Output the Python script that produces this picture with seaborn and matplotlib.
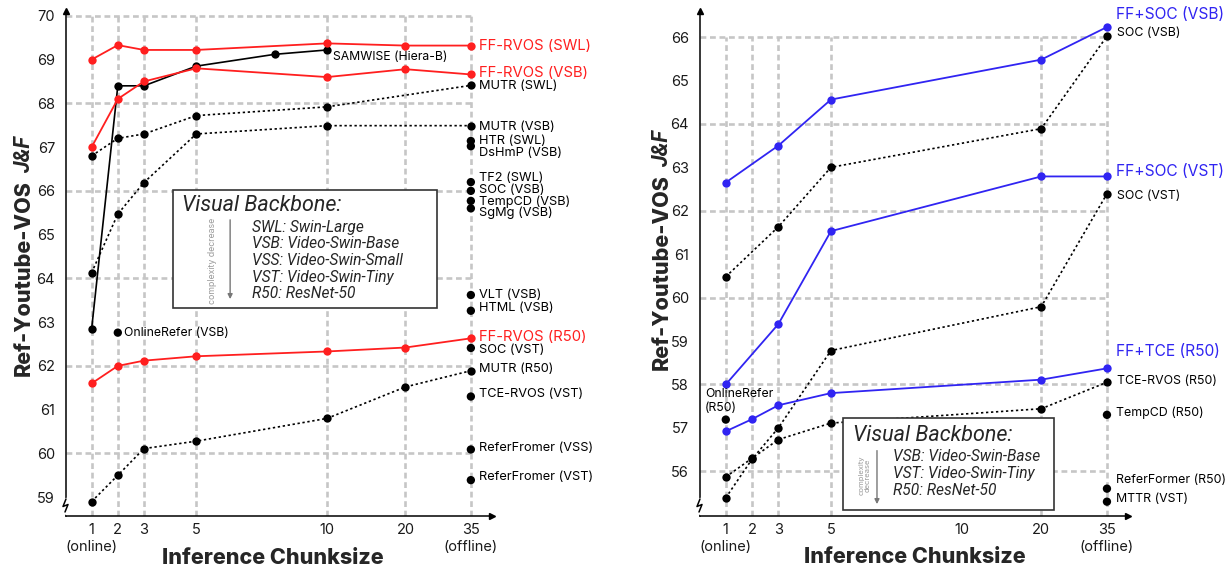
import numpy as np
import matplotlib
matplotlib.use("Agg")
import matplotlib.pyplot as plt
import seaborn as sns
from matplotlib.patches import Rectangle

# ---------------- data ----------------
chunk_ticks = [1, 2, 3, 5, 10, 20, 35]
chunk_ticklabels = ["1", "2", "3", "5", "10", "20", "35"]
ONLINE = 1
OFFLINE = 35

# left panel (Ref-Youtube-VOS, FF-RVOS)
left_x = [1, 2, 3, 5, 10, 20, 35]
ffrvos_swl = [69.0, 69.33, 69.22, 69.22, 69.37, 69.32, 69.32]
ffrvos_vsb = [67.0, 68.1, 68.5, 68.8, 68.6, 68.78, 68.66]
ffrvos_r50 = [61.6, 62.0, 62.12, 62.22, 62.33, 62.42, 62.63]
mutr_r50 = [58.9, 59.5, 60.11, 60.28, 60.8, 61.52, 61.89]
mutr_x = [1, 2, 3, 5, 10, 35]
mutr_swl = [66.8, 67.2, 67.3, 67.72, 67.92, 68.41]
mutr_vsb = [64.13, 65.47, 66.19, 67.3, 67.49, 67.49]
samwise_x = [1, 2, 3, 5, 8, 10]
samwise = [62.85, 68.4, 68.4, 68.85, 69.12, 69.22]
onlinerefer_vsb_x = [2]
onlinerefer_vsb = [62.76]
left_offline_names = ["HTR (SWL)", "DsHmP (VSB)", "TF2 (SWL)", "SOC (VSB)", "TempCD (VSB)",
                      "SgMg (VSB)", "VLT (VSB)", "HTML (VSB)", "SOC (VST)", "TCE-RVOS (VST)",
                      "ReferFromer (VSS)", "ReferFromer (VST)"]
left_offline_vals = [67.14, 67.02, 66.2, 66.0, 65.77, 65.6, 63.62, 63.26, 62.41, 61.3, 60.09, 59.39]
left_grid_x = [1, 2, 3, 5, 10, 20, 35]
left_grid_y = [60, 62, 64, 66, 68, 70]
left_yticks = list(range(59, 71))

# right panel (FF + SOC / TCE)
right_x5 = [1, 3, 5, 20, 35]
ffsoc_vsb = [62.65, 63.5, 64.56, 65.48, 66.23]
soc_vsb = [60.48, 61.63, 63.0, 63.89, 66.02]
ffsoc_vst = [58.0, 59.39, 61.53, 62.79, 62.79]
right_x6 = [1, 2, 3, 5, 20, 35]
soc_vst = [55.39, 56.28, 57.0, 58.78, 59.79, 62.39]
fftce_r50 = [56.92, 57.2, 57.52, 57.8, 58.11, 58.37]
tce_r50 = [55.87, 56.3, 56.73, 57.11, 57.44, 58.05]
onlinerefer_r50_x = [1]
onlinerefer_r50 = [57.19]
right_offline_names = ["TempCD (R50)", "ReferFormer (R50)", "MTTR (VST)"]
right_offline_vals = [57.3, 55.6, 55.3]
right_grid_x = [1, 2, 3, 5, 20, 35]
right_grid_y = [56, 58, 60, 62, 64, 66]
right_yticks = list(range(56, 67))

# ---------------- style ----------------
RED = "#ff1f1f"
BLUE = "#3024f2"
BLACK = "#000000"
GRID = "#c6c6c6"
DOT = (0, (1.4, 1.6))

sns.set_style("white")
plt.rcParams["font.family"] = ["Inter", "DejaVu Sans"]
ITAL = "Roboto"
HEAVY = "heavy"


def fwd(v):
    v = np.asarray(v, dtype=float)
    return np.where(v <= 10, v - 1, np.where(v <= 20, 9 + (v - 10) * 0.3, 12 + (v - 20) / 6.0))


def inv(p):
    p = np.asarray(p, dtype=float)
    return np.where(p <= 9, p + 1, np.where(p <= 12, 10 + (p - 9) / 0.3, 20 + (p - 12) * 6.0))


fig = plt.figure(figsize=(12.25, 5.68), dpi=100)
W, H = 1225.0, 568.0
axL = fig.add_axes([65.5 / W, (H - 516) / H, 426.5 / W, 505 / H])
axR = fig.add_axes([699.5 / W, (H - 516) / H, 428.7 / W, 505 / H])


def setup(ax, ylim, yticks, grid_x, grid_y):
    ax.set_xscale("function", functions=(fwd, inv))
    ax.set_xlim(0, 39.85)
    ax.set_ylim(*ylim)
    for s in ["top", "right"]:
        ax.spines[s].set_visible(False)
    for s in ["left", "bottom"]:
        ax.spines[s].set_color("black")
        ax.spines[s].set_linewidth(1.1)
    ax.set_xticks(chunk_ticks)
    ax.set_xticklabels(chunk_ticklabels)
    minor = [m for m in inv(np.arange(0, 15)) if not np.any(np.isclose(m, chunk_ticks))]
    ax.set_xticks(minor, minor=True)
    ax.set_yticks(yticks)
    ax.tick_params(axis="x", which="both", direction="inout", length=5, width=1,
                   labelsize=10.5, pad=2.5, colors="black", labelcolor="#1a1a1a")
    ax.tick_params(axis="y", which="both", direction="inout", length=5, width=1,
                   labelsize=10.5, pad=5, colors="black", labelcolor="#1a1a1a")
    for xv, txt in [(ONLINE, "(online)"), (OFFLINE, "(offline)")]:
        ax.annotate(txt, xy=(xv, 0), xycoords=("data", "axes fraction"), xytext=(0, -31),
                    textcoords="offset pixels", ha="center", va="center", fontsize=10.5,
                    color="#1a1a1a", annotation_clip=False)
    ax.vlines(grid_x, ylim[0], max(grid_y), colors=GRID, linestyles=(0, (2.2, 1.4)),
              linewidth=1.9, zorder=0)
    ax.hlines(grid_y, 0, OFFLINE, colors=GRID, linestyles=(0, (2.2, 1.4)),
              linewidth=1.9, zorder=0)
    # arrow heads
    ax.plot([0], [1], marker="^", color="black", markersize=4.5, transform=ax.transAxes,
            clip_on=False, zorder=10)
    ax.plot([1], [0], marker=">", color="black", markersize=4.5, transform=ax.transAxes,
            clip_on=False, zorder=10)
    # axis break squiggle
    px = 1.0 / ax.bbox.width
    py = 1.0 / ax.bbox.height
    ax.plot([0, 0], [3.5 * py, 17.5 * py], color="white", lw=2.5, transform=ax.transAxes,
            clip_on=False, zorder=9)
    ax.plot([0.5 * px, -2.5 * px, 2.5 * px, -0.5 * px], [17 * py, 9.5 * py, 11.5 * py, 4 * py],
            color="black", lw=1.1, transform=ax.transAxes, clip_on=False, zorder=10)


def series(ax, x, y, color, ls="-", lw=1.3, ms=6, z=3):
    sns.lineplot(x=x, y=y, ax=ax, color=color, linestyle=ls, linewidth=lw, marker="o",
                 markersize=ms, markeredgewidth=0, markerfacecolor=color, sort=False,
                 estimator=None, legend=False, zorder=z)


def points(ax, x, y, color="black", z=4):
    sns.scatterplot(x=x, y=y, ax=ax, color=color, s=36, edgecolor="none", linewidth=0,
                    legend=False, zorder=z)


def label(ax, text, x, y, dx, dy, color="black", size=9.2, ha="left", va="center"):
    ax.annotate(text, xy=(x, y), xytext=(dx, dy), textcoords="offset pixels",
                ha=ha, va=va, color=color, fontsize=size, zorder=8, annotation_clip=False)


def ylabel_two_part(x_base_px, yc_px, size=15.5):
    r = fig.canvas.get_renderer()
    t1 = fig.text(0, 0, "Ref-Youtube-VOS", rotation=90, rotation_mode="anchor",
                  ha="left", va="baseline", fontsize=size, fontweight=HEAVY)
    t2 = fig.text(0, 0, "J&F", rotation=90, rotation_mode="anchor", ha="left",
                  va="baseline", fontsize=size, fontweight="bold", family=ITAL, style="italic")
    h1 = t1.get_window_extent(r).height
    h2 = t2.get_window_extent(r).height
    gap = 0.3 * size * 100 / 72
    y0 = yc_px - (h1 + gap + h2) / 2
    t1.set_position((x_base_px / W, y0 / H))
    t2.set_position((x_base_px / W, (y0 + h1 + gap) / H))


def legend_box(ax, rect, title_xy, entries, ex, ey0, arrow_x, arrow_y, note, note_xy, note_size):
    ax.add_patch(Rectangle(rect[:2], rect[2], rect[3], transform=ax.transAxes,
                           facecolor="white", edgecolor="#333333", lw=1.2, zorder=6))
    ax.text(*title_xy, "Visual Backbone:", transform=ax.transAxes, fontsize=15.5,
            family=ITAL, style="italic", ha="left", va="center", zorder=7)
    for i, t in enumerate(entries):
        ax.text(ex, ey0 - i * 0.033, t, transform=ax.transAxes, fontsize=11.2,
                family=ITAL, style="italic", ha="left", va="center", zorder=7)
    ax.annotate("", xy=(arrow_x, arrow_y[1]), xytext=(arrow_x, arrow_y[0]),
                xycoords="axes fraction",
                arrowprops=dict(arrowstyle="-|>", color="#777777", lw=1, mutation_scale=7),
                zorder=7)
    ax.text(*note_xy, note, transform=ax.transAxes, rotation=90, fontsize=note_size,
            color="#9a9a9a", ha="center", va="center", zorder=7, linespacing=1.0)


# ---------------- left panel ----------------
setup(axL, (58.57, 70.11), left_yticks, left_grid_x, left_grid_y)
series(axL, samwise_x, samwise, BLACK, "-", lw=1.2)
series(axL, mutr_x, mutr_swl, BLACK, DOT, lw=1.2)
series(axL, mutr_x, mutr_vsb, BLACK, DOT, lw=1.2)
series(axL, left_x, mutr_r50, BLACK, DOT, lw=1.2)
series(axL, left_x, ffrvos_swl, RED, "-", lw=1.3, z=5)
series(axL, left_x, ffrvos_vsb, RED, "-", lw=1.3, z=5)
series(axL, left_x, ffrvos_r50, RED, "-", lw=1.3, z=5)
points(axL, onlinerefer_vsb_x, onlinerefer_vsb)
points(axL, [OFFLINE] * len(left_offline_vals), left_offline_vals)

label(axL, "FF-RVOS (SWL)", OFFLINE, ffrvos_swl[-1], 8, 0, RED, 10.7)
label(axL, "FF-RVOS (VSB)", OFFLINE, ffrvos_vsb[-1], 8, 1, RED, 10.7)
label(axL, "FF-RVOS (R50)", OFFLINE, ffrvos_r50[-1], 8, 1, RED, 10.7)
label(axL, "MUTR (SWL)", OFFLINE, mutr_swl[-1], 8, -1)
label(axL, "MUTR (VSB)", OFFLINE, mutr_vsb[-1], 8, -1)
label(axL, "MUTR (R50)", OFFLINE, mutr_r50[-1], 8, 1.3)
left_dy = {"HTR (SWL)": 0, "DsHmP (VSB)": -6.7, "TF2 (SWL)": 4.3, "SOC (VSB)": 1,
           "TempCD (VSB)": -0.7, "SgMg (VSB)": -4.3, "VLT (VSB)": 0, "HTML (VSB)": 2.3,
           "SOC (VST)": -2.3, "TCE-RVOS (VST)": 2.3, "ReferFromer (VSS)": 1.7,
           "ReferFromer (VST)": 2.7}
for name, val in zip(left_offline_names, left_offline_vals):
    label(axL, name, OFFLINE, val, 8, left_dy[name])
label(axL, "SAMWISE (Hiera-B)", samwise_x[-1], samwise[-1], 6, -7, size=8.8)
label(axL, "OnlineRefer (VSB)", onlinerefer_vsb_x[0], onlinerefer_vsb[0], 6, 0, size=8.8)

axL.set_xlabel("Inference Chunksize", fontsize=15.5, fontweight=HEAVY)
axL.xaxis.set_label_coords(0.4865, -0.063)

legend_box(axL, (0.252, 0.412, 0.619, 0.2335), (0.273, 0.614),
           ["SWL: Swin-Large", "VSB: Video-Swin-Base", "VSS: Video-Swin-Small",
            "VST: Video-Swin-Tiny", "R50: ResNet-50"], 0.437, 0.572,
           0.386, (0.592, 0.424), "complexity decrease", (0.344, 0.505), 6.3)

# ---------------- right panel ----------------
setup(axR, (54.97, 66.6), right_yticks, right_grid_x, right_grid_y)
series(axR, right_x5, soc_vsb, BLACK, DOT, lw=1.2)
series(axR, right_x6, soc_vst, BLACK, DOT, lw=1.2)
series(axR, right_x6, tce_r50, BLACK, DOT, lw=1.2)
series(axR, right_x5, ffsoc_vsb, BLUE, "-", lw=1.3, z=5)
series(axR, right_x5, ffsoc_vst, BLUE, "-", lw=1.3, z=5)
series(axR, right_x6, fftce_r50, BLUE, "-", lw=1.3, z=5)
points(axR, onlinerefer_r50_x, onlinerefer_r50)
points(axR, [OFFLINE] * len(right_offline_vals), right_offline_vals)

label(axR, "FF+SOC (VSB)", OFFLINE, ffsoc_vsb[-1], 9, 12.7, BLUE, 11.2)
label(axR, "SOC (VSB)", OFFLINE, soc_vsb[-1], 10, 3.3, size=8.9)
label(axR, "FF+SOC (VST)", OFFLINE, ffsoc_vst[-1], 9, 5, BLUE, 11.2)
label(axR, "SOC (VST)", OFFLINE, soc_vst[-1], 10, -2, size=8.9)
label(axR, "FF+TCE (R50)", OFFLINE, fftce_r50[-1], 9, 17, BLUE, 11.2)
label(axR, "TCE-RVOS (R50)", OFFLINE, tce_r50[-1], 10, 1.7, size=8.9)
right_dy = {"TempCD (R50)": 2.3, "ReferFormer (R50)": 8.7, "MTTR (VST)": 2.7}
for name, val in zip(right_offline_names, right_offline_vals):
    label(axR, name, OFFLINE, val, 9, right_dy[name], size=8.9)
label(axR, "OnlineRefer\n(R50)", onlinerefer_r50_x[0], onlinerefer_r50[0], -21, 6,
      size=8.8, va="bottom")

axR.set_xlabel("Inference Chunksize", fontsize=15.5, fontweight=HEAVY)
axR.xaxis.set_label_coords(0.5015, -0.061)

legend_box(axR, (0.335, 0.012, 0.492, 0.182), (0.358, 0.160),
           ["VSB: Video-Swin-Base", "VST: Video-Swin-Tiny", "R50: ResNet-50"], 0.451, 0.117,
           0.414, (0.135, 0.018), "complexity\ndecrease", (0.386, 0.081), 5.5)

# y labels (bold, with bold-italic J&F)
ylabel_two_part(30, 312)
ylabel_two_part(668, 318)

fig.savefig("out.png", dpi=100)
